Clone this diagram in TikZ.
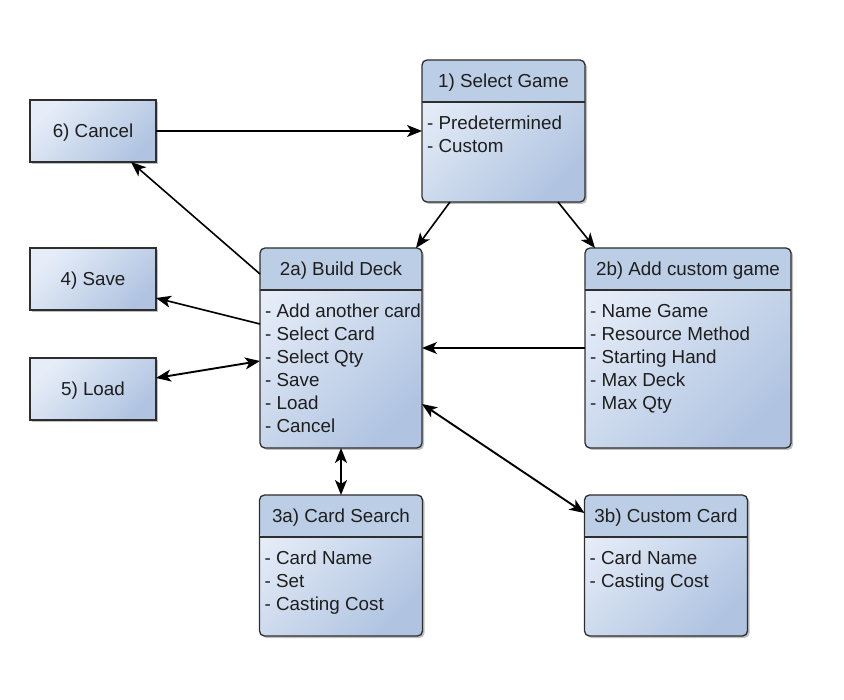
\documentclass[tikz,border=0pt]{standalone}
\usepackage{fontspec}
\setmainfont{Liberation Sans}
\usetikzlibrary{arrows.meta,shadows}
\definecolor{boxline}{HTML}{2E2E2E}
\definecolor{headblue}{HTML}{BCCDE6}
\definecolor{bodylight}{HTML}{E6EDF8}
\definecolor{bodydark}{HTML}{B0C4E1}
\definecolor{txt}{HTML}{1E1E1E}
\tikzset{
every picture/.style={x=1pt,y=-1pt},
plainbox/.style={draw=boxline, line width=1.3pt, outer sep=0pt, inner sep=0pt,
  top color=bodylight, bottom color=bodydark, shading angle=45,
  drop shadow={shadow xshift=2pt, shadow yshift=-2pt, opacity=0.25, fill=black}},
umlbox/.style={plainbox, rounded corners=5pt,
  path picture={
    \fill[headblue] (path picture bounding box.north west) rectangle ([yshift=-42pt]path picture bounding box.north east);
    \draw[boxline, line width=1.3pt] ([yshift=-42pt]path picture bounding box.north west) -- ([yshift=-42pt]path picture bounding box.north east);
  }},
boxtitle/.style={text=txt, font=\fontsize{18.8}{23}\selectfont, text height=13.4pt, text depth=0pt},
boxitems/.style={text=txt, font=\fontsize{18.8}{23}\selectfont, align=left, anchor=north west, inner sep=0pt},
link/.style={line width=1.6pt, -{Stealth[length=15pt,width=12pt,inset=4pt]}},
twoway/.style={line width=1.9pt, {Stealth[length=15pt,width=12pt,inset=4pt]}-{Stealth[length=15pt,width=12pt,inset=4pt]}}
}
\begin{document}
\begin{tikzpicture}
    \useasboundingbox (0,0) rectangle (844,700);
    % simple boxes on the left
    \node[plainbox, boxtitle, minimum width=126, minimum height=62] (cancel) at (93,131) {6) Cancel};
    \node[plainbox, boxtitle, minimum width=126, minimum height=62] (save) at (93,279) {4) Save};
    \node[plainbox, boxtitle, minimum width=126, minimum height=62] (load) at (93,389) {5) Load};
    % class-like boxes
    \node[umlbox, minimum width=163, minimum height=142] (selgame) at (503.5,131) {};
    \node[boxtitle] (selgametitle) at ([yshift=-21pt]selgame.north) {1) Select Game};
    \node[boxitems] (selgameitems) at ([xshift=5pt,yshift=-56pt]selgame.north west) {- Predetermined\\- Custom};

    \node[umlbox, minimum width=162, minimum height=200] (builddeck) at (341,348) {};
    \node[boxtitle] (builddecktitle) at ([yshift=-21pt]builddeck.north) {2a) Build Deck};
    \node[boxitems] (builddeckitems) at ([xshift=5pt,yshift=-56pt]builddeck.north west) {- Add another card\\- Select Card\\- Select Qty\\- Save\\- Load\\- Cancel};

    \node[umlbox, minimum width=206, minimum height=200] (customgame) at (688,348) {};
    \node[boxtitle] (customgametitle) at ([yshift=-21pt]customgame.north) {2b) Add custom game};
    \node[boxitems] (customgameitems) at ([xshift=5pt,yshift=-56pt]customgame.north west) {- Name Game\\- Resource Method\\- Starting Hand\\- Max Deck\\- Max Qty};

    \node[umlbox, minimum width=163, minimum height=141] (cardsearch) at (341,565.5) {};
    \node[boxtitle] (cardsearchtitle) at ([yshift=-21pt]cardsearch.north) {3a) Card Search};
    \node[boxitems] (cardsearchitems) at ([xshift=5pt,yshift=-56pt]cardsearch.north west) {- Card Name\\- Set\\- Casting Cost};

    \node[umlbox, minimum width=163, minimum height=141] (customcard) at (666,565.5) {};
    \node[boxtitle] (customcardtitle) at ([yshift=-21pt]customcard.north) {3b) Custom Card};
    \node[boxitems] (customcarditems) at ([xshift=5pt,yshift=-56pt]customcard.north west) {- Card Name\\- Casting Cost};

    % connectors
    \draw[link] (cancel.east) -- (cancel.east -| selgame.west);
    \draw[link] ([yshift=-26pt]builddeck.north west) -- ([xshift=38pt]cancel.south);
    \draw[link] ([yshift=-76pt]builddeck.north west) -- ([yshift=-19pt]save.east);
    \draw[twoway] ([yshift=11pt]load.east) -- ([yshift=-113pt]builddeck.north west);
    \draw[link] ([xshift=28pt]selgame.south west) -- ([xshift=-6pt]builddeck.north east);
    \draw[link] ([xshift=-27pt]selgame.south east) -- ([xshift=10pt]customgame.north west);
    \draw[link] (customgame.west) -- (builddeck.east);
    \draw[twoway] (builddeck.south) -- (cardsearch.north);
    \draw[twoway] ([yshift=-156pt]builddeck.north east) -- ([yshift=-18pt]customcard.north west);
\end{tikzpicture}
\end{document}
